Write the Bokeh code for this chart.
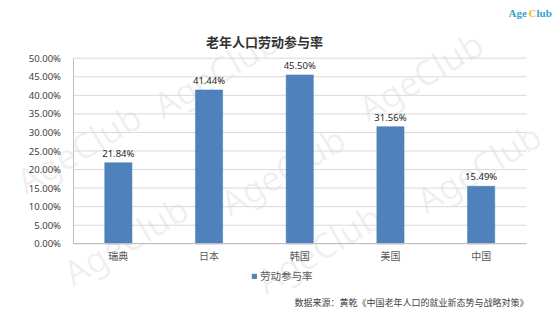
from bokeh.plotting import figure
from bokeh.models import (Range1d, NumeralTickFormatter, Label, ColumnDataSource,
                          Legend, LegendItem, FixedTicker, LabelSet)
from bokeh.core.properties import value
from bokeh.embed import file_html
from bokeh.resources import INLINE

countries = ["瑞典", "日本", "韩国", "美国", "中国"]
rates = [0.2184, 0.4144, 0.4550, 0.3156, 0.1549]
rate_labels = ["21.84%", "41.44%", "45.50%", "31.56%", "15.49%"]
y_ticks = [0.0, 0.05, 0.10, 0.15, 0.20, 0.25, 0.30, 0.35, 0.40, 0.45, 0.50]
title_text = "老年人口劳动参与率"
series_name = "劳动参与率"
source_text = "数据来源：黄乾《中国老年人口的就业新态势与战略对策》"

W, H = 554, 312
# pixel layout of the plotting area inside the canvas
PX_L, PX_R, PX_T, PX_B = 72.5, 526.0, 57.7, 243.3
n = len(countries)
cat_w = (PX_R - PX_L) / n
ppu = (PX_B - PX_T) / 0.5
x_range = Range1d(-PX_L / cat_w, n + (W - PX_R) / cat_w)
y_range = Range1d(-(H - PX_B) / ppu, 0.5 + PX_T / ppu)

p = figure(width=W, height=H, x_range=x_range, y_range=y_range,
           output_backend="svg", toolbar_location=None,
           min_border=0, min_border_left=0, min_border_right=0,
           min_border_top=0, min_border_bottom=0)
p.outline_line_color = None
p.background_fill_color = "white"
p.border_fill_color = "white"

xs = [i + 0.5 for i in range(n)]

# watermarks
wm = [(78, 148), (125, 240), (215, 72), (282, 170), (420, 75), (478, 167), (318, 248)]
for (cx, cy) in wm:
    p.add_layout(Label(x=cx, y=cy, x_units="canvas", y_units="canvas", text="AgeClub",
                       angle=0.54, text_align="center", text_baseline="middle",
                       text_font="Noto Sans", text_font_size="35px",
                       text_color="#000000", text_alpha=0.065, level="underlay"))

# horizontal gridlines at the tick values, across the category span
grid_src = ColumnDataSource(dict(y=y_ticks, x0=[0] * len(y_ticks), x1=[n] * len(y_ticks)))
p.segment(x0="x0", x1="x1", y0="y", y1="y", source=grid_src,
          line_color="#d9d9d9", line_width=1)

src = ColumnDataSource(dict(x=xs, y=rates, lab=rate_labels))
bars = p.vbar(x="x", top="y", width=0.30, source=src, fill_color="#4f81bd",
              line_color="#4a7ab5", line_width=0.5)

lbls = LabelSet(x="x", y="y", text="lab", source=src, y_offset=3, text_align="center",
                text_baseline="bottom", text_font=value("Noto Sans"),
                text_font_size=value("9.5px"), text_color="#262626")
p.add_layout(lbls)

p.xgrid.grid_line_color = None
p.ygrid.grid_line_color = None

p.yaxis.fixed_location = 0
p.yaxis.bounds = (0, 0.5)
p.yaxis.ticker = FixedTicker(ticks=y_ticks)
p.yaxis.formatter = NumeralTickFormatter(format="0.00%")
p.yaxis.major_tick_line_color = None
p.yaxis.minor_tick_line_color = None
p.yaxis.axis_line_color = "#bfbfbf"
p.yaxis.major_label_text_font = "Noto Sans"
p.yaxis.major_label_text_font_size = "9.5px"
p.yaxis.major_label_text_color = "#404040"
p.yaxis.major_label_standoff = 6

p.xaxis.fixed_location = 0
p.xaxis.bounds = (0, n)
p.xaxis.ticker = FixedTicker(ticks=xs)
p.xaxis.major_label_overrides = {x: c for x, c in zip(xs, countries)}
p.xaxis.major_tick_line_color = None
p.xaxis.minor_tick_line_color = None
p.xaxis.axis_line_color = "#bfbfbf"
p.xaxis.major_label_text_font = "Noto Sans CJK SC"
p.xaxis.major_label_text_font_size = "10px"
p.xaxis.major_label_text_color = "#595959"
p.xaxis.major_label_standoff = -2

legend = Legend(items=[LegendItem(label=series_name, renderers=[bars])],
                location=(251, 29), orientation="horizontal",
                border_line_color=None, background_fill_alpha=0,
                label_text_font="Noto Sans CJK SC", label_text_font_size="10.5px",
                label_text_color="#595959", glyph_width=6, glyph_height=6,
                label_standoff=3, padding=0, margin=0)
p.add_layout(legend, "center")

p.add_layout(Label(x=264, y=41, x_units="canvas", y_units="canvas", text=title_text,
                   text_align="center", text_baseline="middle",
                   text_font="Noto Sans CJK SC", text_font_size="13px",
                   text_color="#333333", text_font_style="bold"))

p.add_layout(Label(x=528, y=302, x_units="canvas", y_units="canvas", text=source_text,
                   text_align="right", text_baseline="middle",
                   text_font="Noto Sans CJK SC", text_font_size="9px",
                   text_color="#404040"))

# logo
for txt, x0, col in [("Age", 508, "#35a3c9"), ("C", 528, "#f2c010"), ("lub", 536, "#35a3c9")]:
    p.add_layout(Label(x=x0, y=12, x_units="canvas", y_units="canvas", text=txt,
                       text_align="left", text_baseline="middle", text_font="Liberation Serif",
                       text_font_size="11px", text_font_style="bold", text_color=col))

open("out.html", "w").write(file_html(p, INLINE))
